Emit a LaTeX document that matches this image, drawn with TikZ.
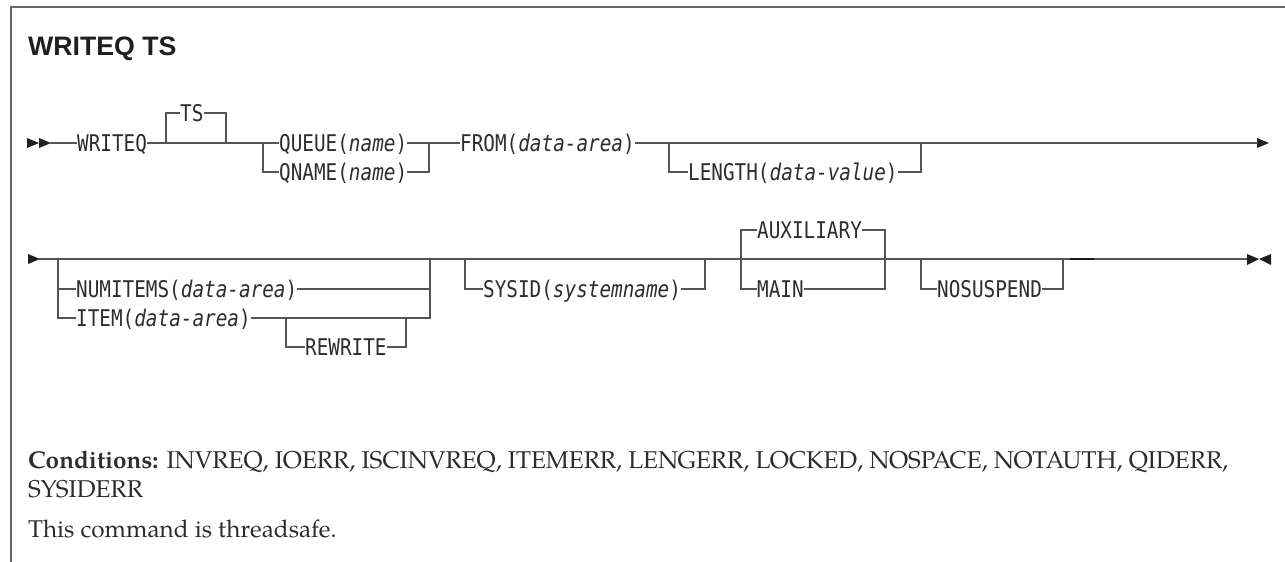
\documentclass[tikz,border=0pt]{standalone}
\usepackage{fontspec}
\setmainfont{Liberation Serif}
\newfontfamily\rrfont[FakeStretch=0.84]{DejaVu Sans Mono}
\newfontfamily\titlefont{Liberation Sans}
\newfontfamily\bodyfont{TeX Gyre Pagella}
\definecolor{ln}{RGB}{85,85,85}
\definecolor{tx}{RGB}{45,45,45}
\begin{document}
\begin{tikzpicture}[x=1pt,y=-1pt,
  rr/.style={font=\rrfont\fontsize{23}{23}\selectfont, text=tx, inner sep=0pt, text height=16.7pt, text depth=0pt, anchor=west},
  rail/.style={draw=ln, line width=1.3pt},
  tip/.style={fill=black!88, draw=none},
  body/.style={font=\bodyfont\fontsize{24.3}{28}\selectfont, text=tx, inner sep=0pt, anchor=base west},
]
\useasboundingbox[fill=white] (0,0) rectangle (1285,562);
% frame
\draw[draw=ln!90, line width=1.3pt] (1285,7) -- (11,7) -- (11,562);
% title
\node[anchor=base west, inner sep=0pt, font=\titlefont\bfseries\fontsize{26.7}{30}\selectfont, text=black!88] (title) at (28,55) {WRITEQ TS};

% ---------- row 1 ----------
\fill[tip] (27,138) -- (39,143) -- (27,148) -- cycle;
\fill[tip] (39,138) -- (51,143) -- (39,148) -- cycle;
\coordinate (s1) at (50,143);
\node[rr] (writeq) at (77,143) {WRITEQ};
\node[rr] (ts) at (180,113) {TS};
\coordinate (tsL) at (166,143);
\coordinate (tsR) at (226,143);
\node[rr] (queue) at (279,143) {QUEUE(\textit{name})};
\node[rr] (qname) at (279,172) {QNAME(\textit{name})};
\coordinate (qL) at (263,143);
\coordinate (qR) at (429,143);
\node[rr] (from) at (460,143) {FROM(\textit{data-area})};
\node[rr] (length) at (688,172) {LENGTH(\textit{data-value})};
\coordinate (lenL) at (669,143);
\coordinate (lenR) at (921,143);
\coordinate (e1) at (1258,143);
\fill[tip] (1257,138) -- (1269,143) -- (1257,148) -- cycle;

\draw[rail] (s1) -- (writeq.west);
\draw[rail] (writeq.east) -- (queue.west);
\draw[rail] (queue.east) -- (from.west);
\draw[rail] (from.east) -- (e1);
\draw[rail] (tsL) |- (ts.west);
\draw[rail] (ts.east) -| (tsR);
\draw[rail] (qL) |- (qname.west);
\draw[rail] (qname.east) -| (qR);
\draw[rail] (lenL) |- (length.west);
\draw[rail] (length.east) -| (lenR);

% ---------- row 2 ----------
\fill[tip] (28,254) -- (40,259) -- (28,264) -- cycle;
\coordinate (s2) at (39,259);
\coordinate (e2) at (1248,259);
\node[rr] (numitems) at (76,289) {NUMITEMS(\textit{data-area})};
\node[rr] (item) at (76,318) {ITEM(\textit{data-area})};
\coordinate (nL) at (58,259);
\coordinate (nR) at (430,259);
\node[rr] (rewrite) at (305,347) {REWRITE};
\coordinate (rwL) at (286,318);
\coordinate (rwR) at (406,318);
\node[rr] (sysid) at (483,289) {SYSID(\textit{systemname})};
\coordinate (sysL) at (465,259);
\coordinate (sysR) at (705,259);
\node[rr] (aux) at (757,230) {AUXILIARY};
\node[rr] (main) at (757,289) {MAIN};
\coordinate (auxL) at (741,259);
\coordinate (auxR) at (885,259);
\node[rr] (nosusp) at (937,289) {NOSUSPEND};
\coordinate (nsL) at (921,259);
\coordinate (nsR) at (1063,259);
\coordinate (k1) at (1070,259);
\coordinate (k2) at (1094,259);

\draw[rail] (s2) -- (e2);
\draw[rail] (nL) |- (numitems.west);
\draw[rail] (nL) |- (item.west);
\draw[rail] (numitems.east) -| (nR);
\draw[rail] (item.east) -| (nR);
\draw[rail] (rwL) |- (rewrite.west);
\draw[rail] (rewrite.east) -| (rwR);
\draw[rail] (sysL) |- (sysid.west);
\draw[rail] (sysid.east) -| (sysR);
\draw[rail] (auxL) |- (aux.west);
\draw[rail] (auxL) |- (main.west);
\draw[rail] (aux.east) -| (auxR);
\draw[rail] (main.east) -| (auxR);
\draw[rail] (nsL) |- (nosusp.west);
\draw[rail] (nosusp.east) -| (nsR);
\draw[draw=black!90, line width=2pt] (k1) -- (k2);
\fill[tip] (1247,254) -- (1259,259) -- (1247,265) -- cycle;
\fill[tip] (1271,254) -- (1259,259) -- (1271,265) -- cycle;

% ---------- text ----------
\node[body] (cond) at (28,468) {\textbf{Conditions:} INVREQ, IOERR, ISCINVREQ, ITEMERR, LENGERR, LOCKED, NOSPACE, NOTAUTH, QIDERR,};
\node[body] (sysiderr) at (28,497) {SYSIDERR};
\node[body] (thread) at (28,537) {This command is threadsafe.};
\end{tikzpicture}
\end{document}
